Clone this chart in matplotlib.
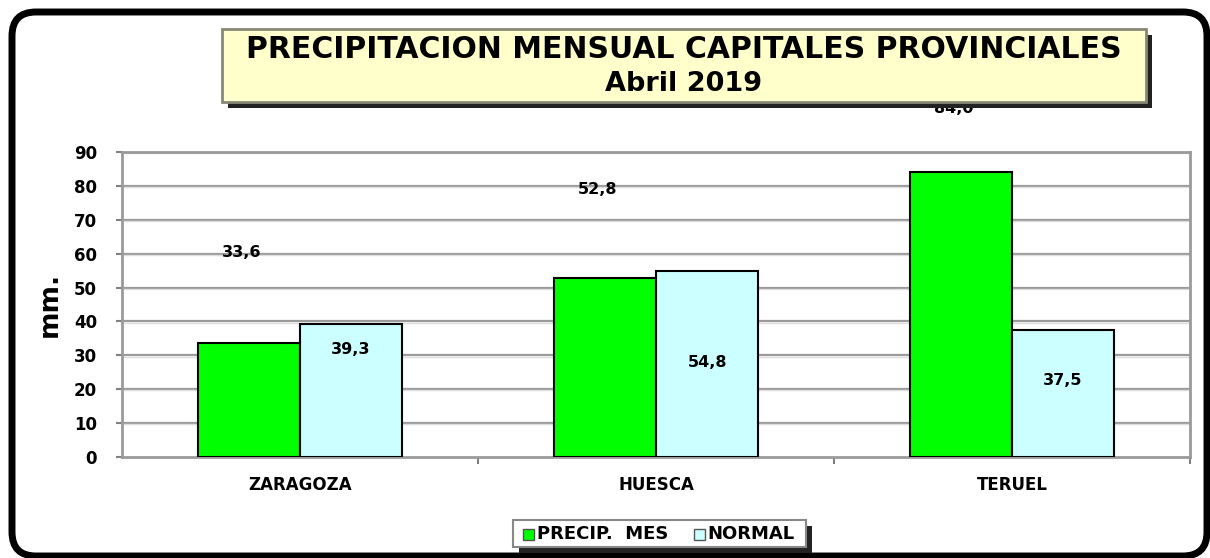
import matplotlib
matplotlib.use("Agg")
import matplotlib.pyplot as plt
import numpy as np
from matplotlib.patches import FancyBboxPatch, Rectangle

cities = ["ZARAGOZA", "HUESCA", "TERUEL"]
precip_mes = [33.6, 52.8, 84.0]
normal = [39.3, 54.8, 37.5]
precip_labels = ["33,6", "52,8", "84,0"]
normal_labels = ["39,3", "54,8", "37,5"]
yticks = [0, 10, 20, 30, 40, 50, 60, 70, 80, 90]
title1 = "PRECIPITACION MENSUAL CAPITALES PROVINCIALES"
title2 = "Abril 2019"

# label placement offsets (data units, as drawn in the original)
precip_dy = [26.6, 26.0, 18.9]
normal_dy = [-7.7, -26.8, -14.8]

W, H = 1210, 558
fig = plt.figure(figsize=(W / 100, H / 100), dpi=100)
fig.patch.set_facecolor("white")
plt.rcParams['font.family'] = ['DejaVu Sans']

# background canvas in pixel coordinates (y downwards)
bg = fig.add_axes([0, 0, 1, 1])
bg.set_xlim(0, W)
bg.set_ylim(H, 0)
bg.axis("off")
bg.set_zorder(0)

frame = FancyBboxPatch((12, 12), 1195, 544,
                       boxstyle="round,pad=0,rounding_size=24",
                       facecolor="none", edgecolor="black", linewidth=5)
bg.add_patch(frame)

ax = fig.add_axes([122 / W, 1 - 457 / H, (1190 - 122) / W, (457 - 152) / H])
ax.set_zorder(2)
ax.set_facecolor("white")
x = np.arange(len(cities))
bw = 0.287
ax.bar(x - bw / 2, precip_mes, bw, color="#00FF00", edgecolor="black", linewidth=1.5, zorder=3)
ax.bar(x + bw / 2, normal, bw, color="#CCFFFF", edgecolor="black", linewidth=1.5, zorder=3)

ax.set_xlim(-0.5, 2.5)
ax.set_ylim(0, 90)
ax.set_yticks(yticks)
ax.set_yticklabels([str(v) for v in yticks], fontsize=12, fontweight="bold")
for v in yticks[1:]:
    ax.axhline(v, color="#9a9a9a", linewidth=1.6, zorder=1)
    ax.axhline(v - 0.35, color="#dddddd", linewidth=1.0, zorder=1)

ax.set_xticks(x)
ax.set_xticklabels(cities, fontsize=12, fontweight="bold")
ax.set_xticks([0.5, 1.5, 2.5], minor=True)
ax.tick_params(axis="x", which="major", length=0, pad=14)
ax.tick_params(axis="x", which="minor", length=5, color="#808080", width=1.5)
ax.tick_params(axis="y", length=4, color="#808080", width=1.5, pad=14)

for side in ["left", "bottom", "right", "top"]:
    ax.spines[side].set_color("#9a9a9a")
    ax.spines[side].set_linewidth(2)

ax.set_ylabel("mm.", fontsize=19, fontweight="bold", labelpad=8)

for i in range(len(cities)):
    ax.text(x[i] - bw / 2 - 0.02, precip_mes[i] + precip_dy[i], precip_labels[i],
            ha="center", va="center", fontsize=11.5, fontweight="bold", clip_on=False, zorder=4)
    ax.text(x[i] + bw / 2, normal[i] + normal_dy[i], normal_labels[i],
            ha="center", va="center", fontsize=11.5, fontweight="bold", clip_on=False, zorder=4)

# overlay canvas for title and legend boxes
ov = fig.add_axes([0, 0, 1, 1])
ov.set_xlim(0, W)
ov.set_ylim(H, 0)
ov.axis("off")
ov.set_zorder(5)
ov.patch.set_alpha(0)

tx0, ty0, tx1, ty1 = 222, 29, 1146, 102
ov.add_patch(Rectangle((tx0 + 6, ty0 + 6), tx1 - tx0, ty1 - ty0,
                       facecolor="#222222", edgecolor="none"))
ov.add_patch(Rectangle((tx0, ty0), tx1 - tx0, ty1 - ty0,
                       facecolor="#FFFFCC", edgecolor="#888877", linewidth=2))
ov.text((tx0 + tx1) / 2, 50, title1, ha="center", va="center",
        fontsize=21.5, fontweight="bold")
ov.text((tx0 + tx1) / 2, 84, title2, ha="center", va="center",
        fontsize=19.5, fontweight="bold")

lx0, ly0, lx1, ly1 = 513, 520, 806, 547
ov.add_patch(Rectangle((lx0 + 6, ly0 + 6), lx1 - lx0, ly1 - ly0,
                       facecolor="#222222", edgecolor="none"))
ov.add_patch(Rectangle((lx0, ly0), lx1 - lx0, ly1 - ly0,
                       facecolor="white", edgecolor="#888888", linewidth=1.5))
ov.add_patch(Rectangle((523, 529), 11, 11, facecolor="#00FF00",
                       edgecolor="#555555", linewidth=1))
ov.add_patch(Rectangle((694, 529), 11, 11, facecolor="#CCFFFF",
                       edgecolor="#555555", linewidth=1))
ov.text(537, 534, "PRECIP.  MES", ha="left", va="center", fontsize=13,
        fontweight="bold")
ov.text(707, 534, "NORMAL", ha="left", va="center", fontsize=13,
        fontweight="bold")

fig.savefig("out.png", dpi=100, facecolor="white")
